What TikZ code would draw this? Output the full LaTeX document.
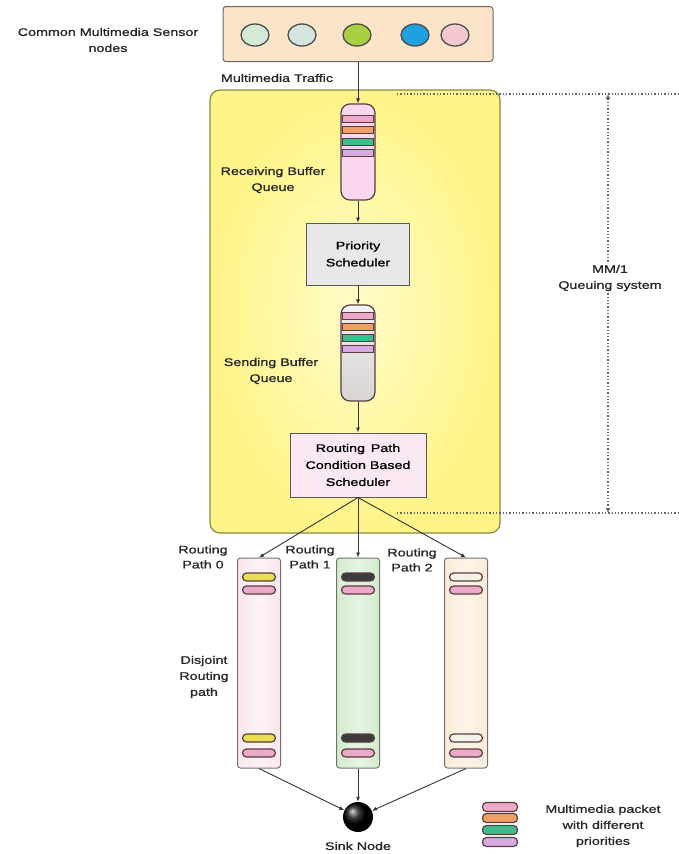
\documentclass[tikz,border=0pt]{standalone}
\usepackage{fontspec}
\setmainfont{Liberation Sans}[FakeStretch=1.3, FakeBold=1]
\usepackage{tikz}
\usetikzlibrary{shapes.geometric,arrows.meta}

\definecolor{sensorbg}{RGB}{252,228,200}
\definecolor{mmyellow}{RGB}{255,244,135}
\definecolor{mmlight}{RGB}{255,252,200}
\definecolor{mmline}{RGB}{140,135,60}
\definecolor{pktline}{RGB}{90,60,65}
\definecolor{pktpink}{RGB}{236,170,200}
\definecolor{pktorange}{RGB}{240,160,100}
\definecolor{pktgreen}{RGB}{60,190,140}
\definecolor{pktlav}{RGB}{215,170,225}
\definecolor{pktyellow}{RGB}{235,222,80}
\definecolor{pktdark}{RGB}{60,60,60}
\definecolor{pktwhite}{RGB}{242,242,232}
\definecolor{recvpink}{RGB}{250,215,238}
\definecolor{sendgrey}{RGB}{215,212,210}
\definecolor{priogrey}{RGB}{232,232,232}
\definecolor{routepink}{RGB}{250,232,242}
\definecolor{colpink}{RGB}{251,230,236}
\definecolor{colgreen}{RGB}{212,236,206}
\definecolor{colpeach}{RGB}{251,236,216}

\tikzset{
  lbl/.style={align=center, inner sep=0, text=black!85,
    font=\fontsize{11}{16}\selectfont},
  sensor/.style={ellipse, draw=black!70, line width=1.3,
    minimum width=28, minimum height=22, inner sep=0},
  capsule/.style={draw=pktline, line width=1.2, rounded corners=9,
    minimum width=34, minimum height=96, inner sep=0},
  stripe/.style={draw=pktline, line width=1.6, minimum width=31,
    minimum height=7, inner sep=0},
  pkt/.style={draw=pktline, line width=1.2, rounded corners=4,
    minimum width=33, minimum height=8, inner sep=0},
  sched/.style={draw=black!65, line width=1, align=center, inner sep=0,
    font=\fontsize{11}{17}\selectfont},
  pathcol/.style={draw=black!55, line width=1, rounded corners=3,
    minimum width=43, minimum height=210, inner sep=0},
  conn/.style={-{Latex[length=5,width=4]}, line width=0.9, black!80},
  dots/.style={dotted, line width=1.3, black!60}
}

\begin{document}
\begin{tikzpicture}[x=1pt,y=-1pt]
   \useasboundingbox (0,0) rectangle (678,854);

   % sensor nodes
   \node[lbl] (sensorlbl) at (108,40) {Common Multimedia Sensor\\nodes};
   \node[draw=black!60, line width=1, fill=sensorbg, rounded corners=3,
     minimum width=270, minimum height=55] (sensors) at (358,34) {};
   \node[sensor, fill={rgb,255:red,212;green,234;blue,214}] (s1) at (255,35) {};
   \node[sensor, fill={rgb,255:red,214;green,228;blue,224}] (s2) at (302,35) {};
   \node[sensor, fill={rgb,255:red,168;green,208;blue,64}] (s3) at (357,35) {};
   \node[sensor, fill={rgb,255:red,30;green,160;blue,225}] (s4) at (415,35) {};
   \node[sensor, fill={rgb,255:red,244;green,200;blue,206}] (s5) at (455,35) {};
   \node[lbl] (traffic) at (277,78) {Multimedia Traffic};

   % M/M/1 queuing system box
   \node[draw=mmline, line width=1.2, rounded corners=10, inner color=mmlight,
     outer color=mmyellow, minimum width=290, minimum height=443] (mm1) at (355,311.5) {};

   % receiving buffer
   \node[capsule, fill=recvpink] (recv) at (358,152) {};
   \node[stripe, fill=pktpink] (r1) at (358,119) {};
   \node[stripe, fill=pktorange] (r2) at (358,130) {};
   \node[stripe, fill=pktgreen] (r3) at (358,142) {};
   \node[stripe, fill=pktlav] (r4) at (358,153) {};
   \node[lbl] (recvlbl) at (273,180) {Receiving Buffer\\Queue};

   \node[sched, fill=priogrey, minimum width=103, minimum height=62] (prio) at (358,254) {Priority\\Scheduler};

   % sending buffer
   \node[capsule, top color=white!95!black, bottom color=sendgrey] (send) at (358,353) {};
   \node[stripe, fill=pktpink] (t1) at (358,316) {};
   \node[stripe, fill=pktorange] (t2) at (358,327) {};
   \node[stripe, fill=pktgreen] (t3) at (358,338) {};
   \node[stripe, fill=pktlav] (t4) at (358,349) {};
   \node[lbl] (sendlbl) at (271,371) {Sending Buffer\\Queue};

   \node[sched, fill=routepink, minimum width=136, minimum height=64] (route) at (358,465)
     {Routing\, Path\\Condition Based\\Scheduler};

   \draw[conn] (sensors) -- (recv);
   \draw[conn] (recv) -- (prio);
   \draw[conn] (prio) -- (send);
   \draw[conn] (send) -- (route);

   % dotted range of the queuing system
   \coordinate (qtopa) at (397,94);
   \coordinate (qtopb) at (678,94);
   \coordinate (qbota) at (397,513);
   \coordinate (qbotb) at (678,513);
   \coordinate (qup) at (608,94);
   \coordinate (qdown) at (608,513);
   \draw[dots] (qtopa) -- (qtopb);
   \draw[dots] (qbota) -- (qbotb);
   \draw[dots, {Latex[length=5,width=5]}-{Latex[length=5,width=5]}] (qup) -- (qdown);
   \node[lbl, fill=white, inner sep=2] (qlbl) at (610,278) {MM/1\\Queuing system};

   % disjoint routing paths
   \node[pathcol, left color=colpink, right color=colpink, middle color=colpink!50] (path0) at (259,663) {};
   \node[pathcol, left color=colgreen, right color=colgreen, middle color=colgreen!60] (path1) at (358,663) {};
   \node[pathcol, left color=colpeach, right color=colpeach, middle color=colpeach!60] (path2) at (466,663) {};

   \node[pkt, fill=pktyellow] (p0a) at (259,577) {};
   \node[pkt, fill=pktpink] (p0b) at (259,590) {};
   \node[pkt, fill=pktyellow] (p0c) at (259,738) {};
   \node[pkt, fill=pktpink] (p0d) at (259,753) {};
   \node[pkt, fill=pktdark] (p1a) at (358,577) {};
   \node[pkt, fill=pktpink] (p1b) at (358,590) {};
   \node[pkt, fill=pktdark] (p1c) at (358,738) {};
   \node[pkt, fill=pktpink] (p1d) at (358,753) {};
   \node[pkt, fill=pktwhite] (p2a) at (466,577) {};
   \node[pkt, fill=pktpink] (p2b) at (466,590) {};
   \node[pkt, fill=pktwhite] (p2c) at (466,738) {};
   \node[pkt, fill=pktpink] (p2d) at (466,753) {};

   \node[lbl, font=\fontsize{11}{15}\selectfont] (path0lbl) at (203,557) {Routing\\Path 0};
   \node[lbl, font=\fontsize{11}{15}\selectfont] (path1lbl) at (310,557) {Routing\\Path 1};
   \node[lbl, font=\fontsize{11}{15}\selectfont] (path2lbl) at (412,560) {Routing\\Path 2};
   \node[lbl] (disjlbl) at (204,677) {Disjoint\\Routing\\path};

   \draw[conn] (route.south) -- (path0.north);
   \draw[conn] (route.south) -- (path1.north);
   \draw[conn] (route.south) -- (path2.north);

   % sink
   \node[circle, shading=ball, ball color=black, minimum size=30, inner sep=0] (sink) at (358,817) {};
   \node[lbl] (sinklbl) at (358,846) {Sink Node};
   \draw[conn] (path0.south) -- (sink);
   \draw[conn] (path1.south) -- (sink);
   \draw[conn] (path2.south) -- (sink);

   % legend
   \node[pkt, fill=pktpink, minimum width=35, minimum height=9] (leg1) at (500,807) {};
   \node[pkt, fill=pktorange, minimum width=35, minimum height=9] (leg2) at (500,818) {};
   \node[pkt, fill=pktgreen, minimum width=35, minimum height=9] (leg3) at (500,830) {};
   \node[pkt, fill=pktlav, minimum width=35, minimum height=9] (leg4) at (500,842) {};
   \node[lbl] (leglbl) at (603,826) {Multimedia packet\\with different\\priorities};
\end{tikzpicture}
\end{document}
